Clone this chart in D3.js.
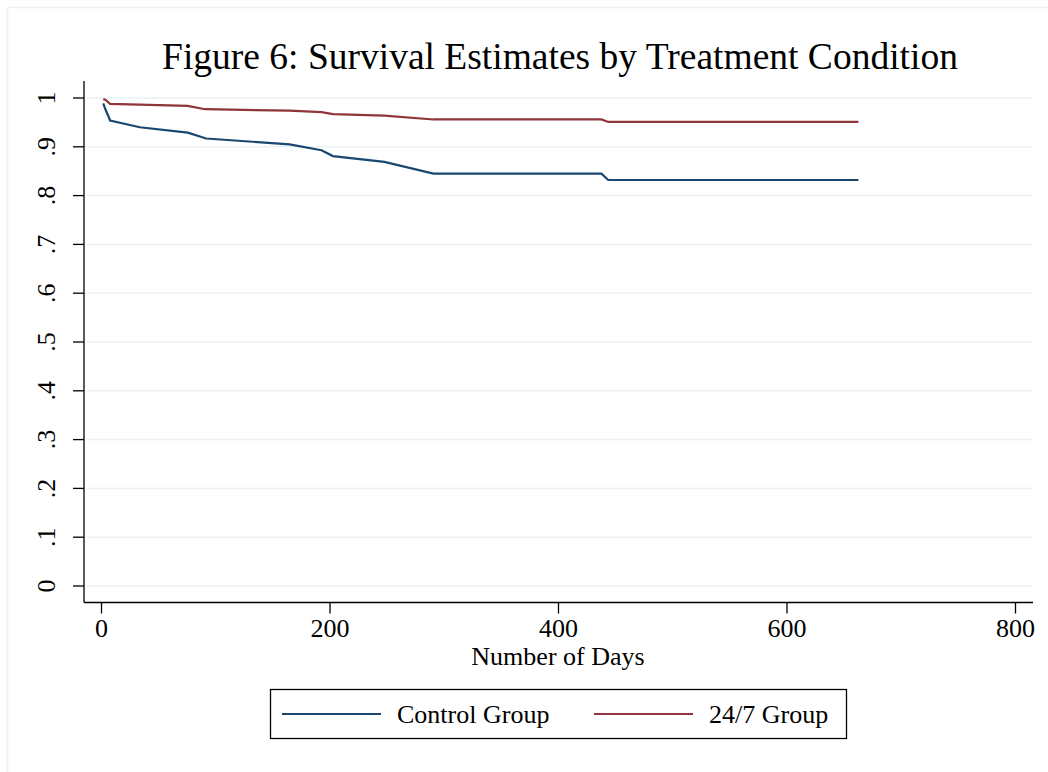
<!DOCTYPE html>
<meta charset="utf-8">
<style>
body { margin: 0; background: #fff; }
text { font-family: "Liberation Serif", "Times New Roman", serif; fill: #000; }
.grid line { stroke: #eaf2f3; stroke-width: 1.5px; }
.axis path, .axis line { stroke: #000; stroke-width: 1.3px; }
.line { fill: none; stroke-width: 2.2px; }
</style>
<body>
<script src="https://d3js.org/d3.v7.min.js"></script>
<script>

// Kaplan-Meier estimates (day, survival)
var controlDays  = [2, 3.5, 8, 34, 76, 92, 165, 193, 203, 248, 291, 438, 444, 663];
var controlSurv  = [0.989, 0.979, 0.954, 0.940, 0.929, 0.917, 0.905, 0.893, 0.881, 0.869, 0.845, 0.845, 0.832, 0.832];
var groupDays    = [2, 4, 8, 76, 91, 165, 193, 203, 248, 291, 438, 444, 663];
var groupSurv    = [0.998, 0.996, 0.988, 0.984, 0.977, 0.974, 0.971, 0.967, 0.964, 0.956, 0.956, 0.951, 0.951];

var xTicks = [0, 200, 400, 600, 800];
var yTicks = [0, .1, .2, .3, .4, .5, .6, .7, .8, .9, 1];
var yTickLabels = ["0", ".1", ".2", ".3", ".4", ".5", ".6", ".7", ".8", ".9", "1"];

var seriesNames = ["Control Group", "24/7 Group"];
var seriesColors = ["#1a476f", "#90353b"];

var W = 1048, H = 772;

var svg = d3.select("body").append("svg")
    .attr("width", W)
    .attr("height", H);

// light outer frame (graph region)
svg.append("rect")
    .attr("x", 7.5).attr("y", 7.5)
    .attr("width", W + 10).attr("height", H + 10)
    .attr("fill", "none")
    .attr("stroke", "#eaf2f3")
    .attr("stroke-width", 1.5);

// scales
var x = d3.scaleLinear().domain([0, 800]).range([101, 1015]);
var y = d3.scaleLinear().domain([0, 1]).range([586, 98]);

var plotLeft = 84, plotRight = 1033, plotTop = 81, plotBottom = 602.5;

// gridlines
svg.append("g").attr("class", "grid")
  .selectAll("line").data(yTicks).enter().append("line")
    .attr("x1", plotLeft + 2).attr("x2", plotRight)
    .attr("y1", d => y(d)).attr("y2", d => y(d));

// x axis
var xAxis = svg.append("g")
    .attr("class", "axis")
    .attr("transform", "translate(0," + plotBottom + ")")
    .call(d3.axisBottom(x).tickValues(xTicks).tickSize(11).tickSizeOuter(0).tickPadding(5));
xAxis.select(".domain").attr("d", "M" + plotLeft + ",0H" + plotRight);
xAxis.selectAll("text")
    .attr("font-size", 26)
    .attr("font-family", "Liberation Serif");

// y axis
var yAxis = svg.append("g")
    .attr("class", "axis")
    .attr("transform", "translate(" + plotLeft + ",0)")
    .call(d3.axisLeft(y).tickValues(yTicks).tickSize(11).tickSizeOuter(0)
      .tickFormat((d, i) => yTickLabels[i]));
yAxis.select(".domain").attr("d", "M0," + plotTop + "V" + plotBottom);
yAxis.selectAll(".tick").attr("transform", null);
yAxis.selectAll(".tick line").attr("transform", d => "translate(0," + y(d) + ")");
yAxis.selectAll("text")
    .attr("font-size", 26)
    .attr("font-family", "Liberation Serif")
    .attr("text-anchor", "middle")
    .attr("x", 0).attr("y", 0).attr("dy", 0)
    .attr("dominant-baseline", "central")
    .attr("transform", d => "translate(-38," + y(d) + ") rotate(-90)");

// x axis title
svg.append("text")
    .attr("x", x(400))
    .attr("y", 665)
    .attr("text-anchor", "middle")
    .attr("font-size", 26)
    .text("Number of Days");

// title
svg.append("text")
    .attr("x", 560)
    .attr("y", 69)
    .attr("text-anchor", "middle")
    .attr("font-size", 37.5)
    .text("Figure 6: Survival Estimates by Treatment Condition");

// lines
var line = d3.line()
    .x(d => x(d[0]))
    .y(d => y(d[1]));

var series = [
  d3.zip(controlDays, controlSurv),
  d3.zip(groupDays, groupSurv)
];

svg.selectAll(".line").data(series).enter().append("path")
    .attr("class", "line")
    .attr("stroke", (d, i) => seriesColors[i])
    .attr("d", line);

// legend
var legend = svg.append("g");
legend.append("rect")
    .attr("x", 270.5).attr("y", 689.5)
    .attr("width", 576).attr("height", 49)
    .attr("fill", "#fff")
    .attr("stroke", "#000")
    .attr("stroke-width", 1.3);

var legendX = [282, 594];
seriesNames.forEach(function(name, i) {
  legend.append("line")
      .attr("x1", legendX[i]).attr("x2", legendX[i] + 99)
      .attr("y1", 714).attr("y2", 714)
      .attr("stroke", seriesColors[i])
      .attr("stroke-width", 2.2);
  legend.append("text")
      .attr("x", legendX[i] + 115)
      .attr("y", 723)
      .attr("font-size", 26)
      .text(name);
});

</script>
</body>
